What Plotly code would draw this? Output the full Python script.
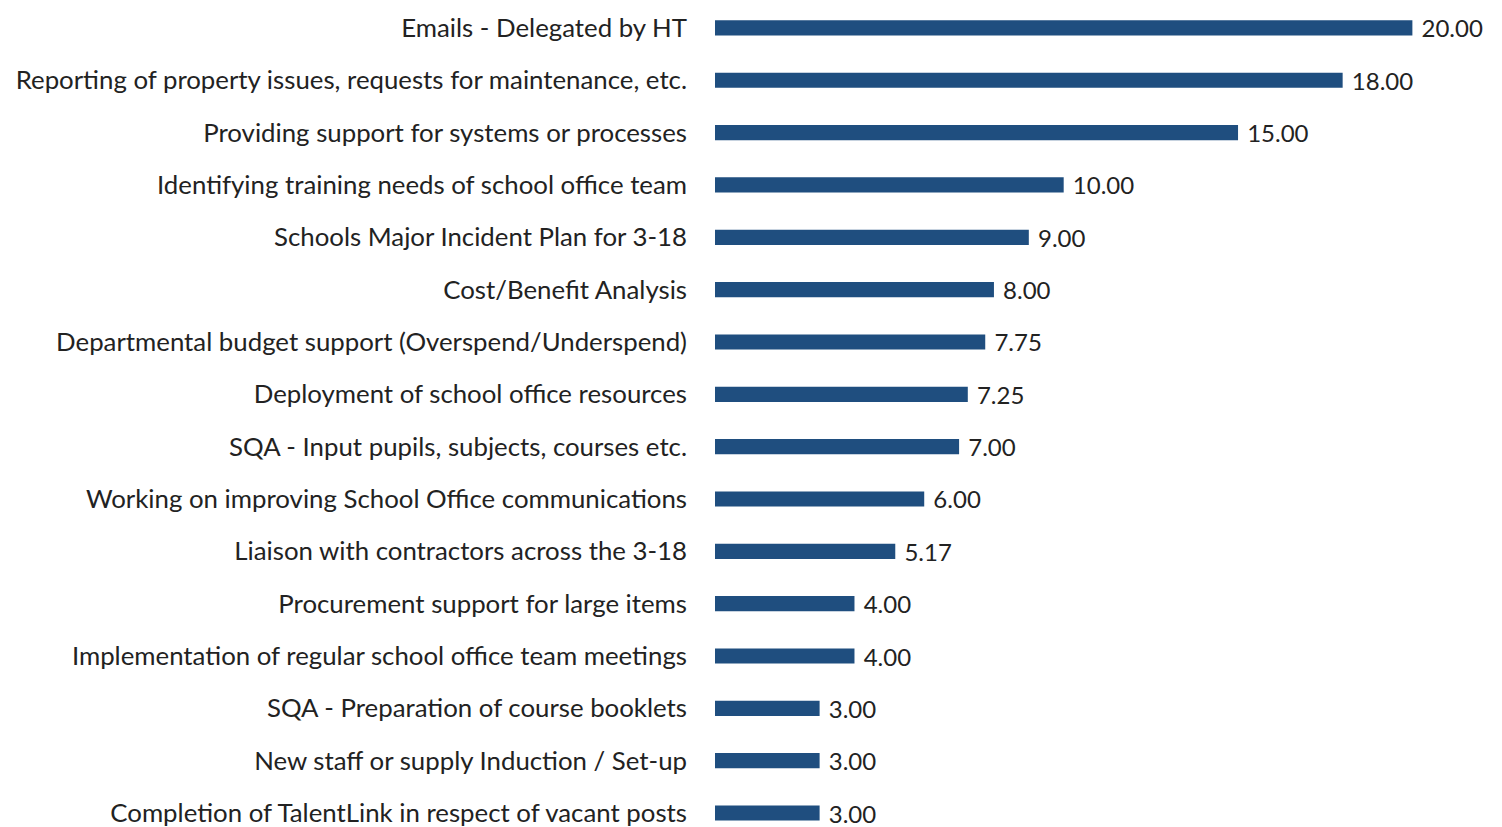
import plotly.graph_objects as go

categories = [
    "Emails - Delegated by HT",
    "Reporting of property issues, requests for maintenance, etc.",
    "Providing support for systems or processes",
    "Identifying training needs of school office team",
    "Schools Major Incident Plan for 3-18",
    "Cost/Benefit Analysis",
    "Departmental budget support (Overspend/Underspend)",
    "Deployment of school office resources",
    "SQA - Input pupils, subjects, courses etc.",
    "Working on improving School Office communications",
    "Liaison with contractors across the 3-18",
    "Procurement support for large items",
    "Implementation of regular school office team meetings",
    "SQA - Preparation of course booklets",
    "New staff or supply Induction / Set-up",
    "Completion of TalentLink in respect of vacant posts",
]
values = [20.00, 18.00, 15.00, 10.00, 9.00, 8.00, 7.75, 7.25, 7.00, 6.00, 5.17, 4.00, 4.00, 3.00, 3.00, 3.00]

fig = go.Figure(go.Bar(
    x=values,
    y=categories,
    orientation="h",
    marker=dict(color="#1F4E7F", line=dict(width=0)),
    width=0.29,
    text=[f" {v:.2f}" for v in values],
    textposition="outside",
    constraintext="none",
    cliponaxis=False,
    textfont=dict(family="Lato", size=24, color="#222222"),
))

fig.update_layout(
    width=1494,
    height=819,
    margin=dict(l=707, r=0, t=0, b=0),
    paper_bgcolor="white",
    plot_bgcolor="white",
    showlegend=False,
    font=dict(family="Lato", size=25.8, color="#222222"),
)
fig.update_xaxes(range=[0, 22.57], visible=False, showgrid=False, zeroline=False)
fig.update_yaxes(
    type="category",
    range=[15.229, -0.381],
    showgrid=False,
    zeroline=False,
    showline=False,
    ticks="",
    ticklabelstandoff=27,
    tickfont=dict(family="Lato", size=25.8, color="#222222"),
)

fig.write_html("out.html")
